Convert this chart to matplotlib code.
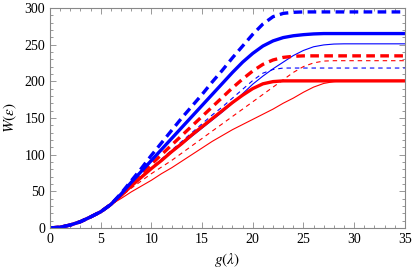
import matplotlib
matplotlib.use("Agg")
import matplotlib.pyplot as plt
from matplotlib.ticker import MultipleLocator

plt.rcParams['font.family'] = ['Liberation Serif', 'DejaVu Serif']
plt.rcParams['mathtext.fontset'] = 'stix'

# coupling values g(lambda)
g = [0, 1, 2, 3, 4, 5, 6, 7, 8, 9, 10, 11, 12, 13, 14, 15, 16, 17, 18, 19,
     20, 21, 22, 23, 24, 25, 26, 27, 28, 29, 30, 32, 35]

# blue, thick dashed
w_blue_thick_dash = [0, 1, 4, 8.5, 15, 22, 32, 47, 64, 81, 99, 116, 133, 150, 166, 182, 199, 215, 232, 248,
                     264, 278, 288, 292.5, 294, 294.5, 294.5, 294.5, 294.5, 294.5, 294.5, 294.5, 294.5]
# blue, thick solid
w_blue_thick = [0, 1, 4, 8.5, 15, 22, 32, 46, 62, 77, 92, 107, 122, 137, 152, 167, 182, 197, 212, 226,
                238, 248, 255, 259.5, 262, 263.5, 264.5, 265, 265, 265, 265, 265, 265]
# blue, thin solid
w_blue_thin = [0, 1, 4, 8.5, 15, 22, 32, 45, 58, 70, 81, 92, 103, 114, 125, 136, 147, 158, 170, 183,
               196, 207, 217, 226, 235, 242, 247, 249.5, 250.7, 251, 251, 251, 251]
# blue, thin dashed
w_blue_thin_dash = [0, 1, 4, 8.5, 15, 22, 32, 44, 58, 70, 82, 94, 106, 118, 130, 142, 154, 165, 177, 189,
                    201, 211, 216, 218, 218, 218, 218, 218, 218, 218, 218, 218, 218]
# red, thick dashed
w_red_thick_dash = [0, 1, 4, 8.5, 15, 22, 32, 45, 60, 74, 87, 100, 113, 126, 139, 152, 165, 178, 191, 203,
                    214, 223, 229, 232.5, 234, 234.6, 234.6, 234.6, 234.6, 234.6, 234.6, 234.6, 234.6]
# red, thick solid
w_red_thick = [0, 1, 4, 8.5, 15, 22, 32, 44, 57, 69, 81, 92, 104, 115, 127, 138, 149, 160, 171, 181,
               190, 196.5, 199.5, 200.5, 200.5, 200.5, 200.5, 200.5, 200.5, 200.5, 200.5, 200.5, 200.5]
# red, thin dashed
w_red_thin_dash = [0, 1, 4, 8.5, 15, 22, 32, 43, 54, 64, 74, 83, 92, 102, 112, 122, 132, 142, 152, 162,
                   172, 182, 192, 202, 212, 220, 225, 227.5, 228, 228, 228, 228, 228]
# red, thin solid
w_red_thin = [0, 1, 4, 8.5, 15, 22, 32, 40, 49, 57, 65, 74, 82, 91, 100, 109, 118, 126, 134, 141,
              148, 155, 162, 170, 177, 185, 192, 197, 199.5, 200.5, 200.5, 200.5, 200.5]

fig = plt.figure(figsize=(4.15, 2.72), dpi=100)
ax = fig.add_axes([0.1205, 0.162, 0.855, 0.809])

thick = 2.4
thin = 0.8
ax.plot(g, w_red_thin, color='red', lw=thin)
ax.plot(g, w_red_thin_dash, color='red', lw=thin, dashes=(4, 3.5))
ax.plot(g, w_blue_thin, color='blue', lw=thin)
ax.plot(g, w_blue_thin_dash, color='blue', lw=thin, dashes=(4, 3.5))
ax.plot(g, w_red_thick, color='red', lw=thick)
ax.plot(g, w_red_thick_dash, color='red', lw=thick, dashes=(2.6, 1.6))
ax.plot(g, w_blue_thick, color='blue', lw=thick)
ax.plot(g, w_blue_thick_dash, color='blue', lw=thick, dashes=(2.6, 1.6))

ax.set_xlim(0, 35)
ax.set_ylim(0, 300)
ax.xaxis.set_major_locator(MultipleLocator(5))
ax.xaxis.set_minor_locator(MultipleLocator(1))
ax.yaxis.set_major_locator(MultipleLocator(50))
ax.yaxis.set_minor_locator(MultipleLocator(10))

for s in ax.spines.values():
    s.set_color('#888888')
    s.set_linewidth(0.8)
ax.tick_params(which='both', direction='in', top=True, right=True, color='#888888',
               labelsize=10, width=0.6)
ax.tick_params(which='major', length=4)
ax.tick_params(which='minor', length=2)

ax.set_xlabel(r'$g(\lambda)$', fontsize=11, labelpad=4)
ax.set_ylabel(r'$W(\epsilon)$', fontsize=11, labelpad=4)

fig.savefig('out.png', dpi=100)
